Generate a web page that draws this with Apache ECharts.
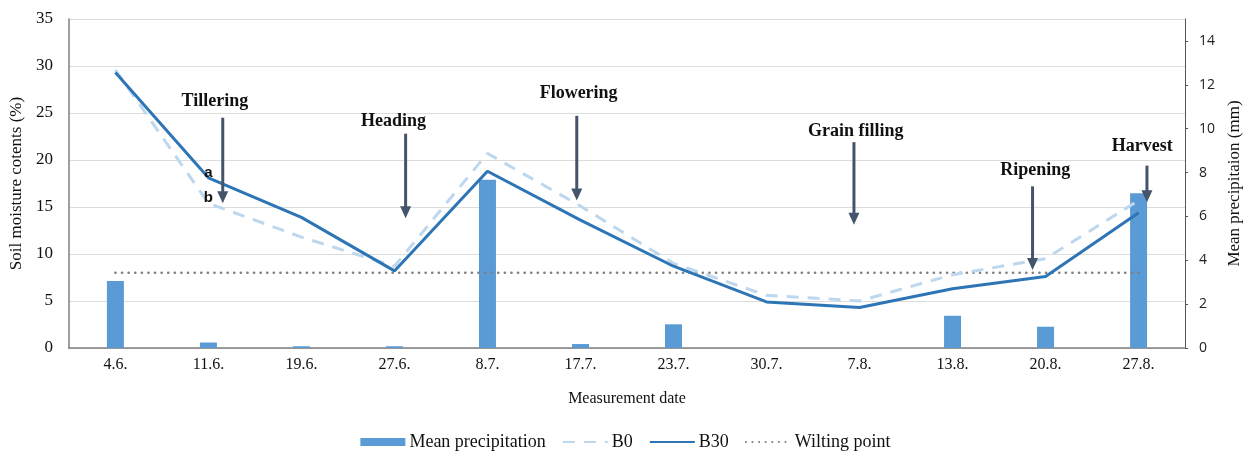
<!DOCTYPE html>
<html>
<head>
<meta charset="utf-8">
<script src="https://cdn.jsdelivr.net/npm/echarts@6/dist/echarts.min.js"></script>
<style>
html,body{margin:0;padding:0;background:#fff;}
#c{width:1251px;height:453px;}
</style>
</head>
<body>
<div id="c"></div>
<script>
const categories = ['4.6.', '11.6.', '19.6.', '27.6.', '8.7.', '17.7.', '23.7.', '30.7.', '7.8.', '13.8.', '20.8.', '27.8.'];
const precipitation = [3.06, 0.25, 0.08, 0.08, 7.67, 0.18, 1.08, 0, 0, 1.47, 0.97, 7.06];
const b0 = [29.6, 15.4, 11.8, 8.7, 20.7, 15.1, 9.0, 5.6, 5.0, 7.8, 9.5, 15.7];
const b30 = [29.3, 18.1, 13.9, 8.2, 18.8, 13.6, 8.7, 4.9, 4.3, 6.3, 7.6, 14.4];
const wilting = [8, 8, 8, 8, 8, 8, 8, 8, 8, 8, 8, 8];
const leftTicks = { min: 0, max: 35, interval: 5 };
const rightTicks = { min: 0, max: 15, interval: 2 };
// growth stage annotations: x in category index units, y in soil-moisture units
const stageNames = ['Tillering', 'Heading', 'Flowering', 'Grain filling', 'Ripening', 'Harvest'];
const stageX = [1.154, 3.12, 4.96, 7.94, 9.86, 11.09];
const stageLabelX = [1.07, 2.99, 4.98, 7.96, 9.89, 11.04];
const stageLabelY = [26.2, 24.1, 27.1, 23.0, 18.9, 21.5];
const stageArrowTop = [24.5, 22.8, 24.7, 21.9, 17.2, 19.4];
const stageArrowTip = [15.4, 13.8, 15.7, 13.1, 8.3, 15.5];
const letterLabels = ['a', 'b'];
const letterX = [1.0, 1.0];
const letterY = [18.6, 16.0];

const serif = '"Liberation Serif", "Times New Roman", serif';
const hiddenDot = { color: 'rgba(0,0,0,0)', borderWidth: 0 };
const chart = echarts.init(document.getElementById('c'));
const option = {
  animation: false,
  backgroundColor: '#fff',
  grid: { left: 67, right: 61, top: 19, bottom: 105 },
  legend: {
    top: 428,
    left: 'center',
    itemWidth: 45,
    itemHeight: 8,
    itemGap: 16,
    textStyle: { fontFamily: serif, fontSize: 18, color: '#111', padding: [0, 0, 0, -1] },
    data: [
      { name: 'Mean precipitation', icon: 'rect' },
      { name: 'B0', itemStyle: hiddenDot },
      { name: 'B30', itemStyle: hiddenDot },
      { name: 'Wilting point', itemStyle: hiddenDot }
    ]
  },
  xAxis: [{
    type: 'category',
    data: categories,
    boundaryGap: true,
    name: 'Measurement date',
    nameLocation: 'middle',
    nameGap: 43,
    nameTextStyle: { fontFamily: serif, fontSize: 16, color: '#111' },
    axisLine: { lineStyle: { color: '#7f7f7f', width: 1.5 } },
    axisTick: { show: false },
    axisLabel: { fontFamily: serif, fontSize: 16, color: '#111', margin: 9 }
  }, {
    type: 'value', min: -0.5, max: 11.5, show: false, position: 'top'
  }],
  yAxis: [{
    type: 'value',
    min: leftTicks.min, max: leftTicks.max, interval: leftTicks.interval,
    name: 'Soil moisture cotents (%)',
    nameLocation: 'middle',
    nameGap: 38,
    nameTextStyle: { fontFamily: serif, fontSize: 17, color: '#111' },
    axisLine: { show: true, onZero: false, lineStyle: { color: '#7f7f7f', width: 1.5 } },
    axisTick: { show: false },
    axisLabel: { fontFamily: serif, fontSize: 17, color: '#111', margin: 16 },
    splitLine: { lineStyle: { color: '#dcdcdc', width: 1 } }
  }, {
    type: 'value',
    min: rightTicks.min, max: rightTicks.max, interval: rightTicks.interval,
    position: 'right',
    name: 'Mean precipitaion (mm)',
    nameLocation: 'middle',
    nameGap: 40,
    nameRotate: 90,
    nameTextStyle: { fontFamily: serif, fontSize: 17, color: '#111' },
    axisLine: { show: true, onZero: false, lineStyle: { color: '#555', width: 1 } },
    axisTick: { show: true, length: 3, lineStyle: { color: '#555' } },
    axisLabel: { fontFamily: '"Open Sans", "Liberation Sans", sans-serif', fontSize: 14, color: '#222', margin: 14, showMaxLabel: false },
    splitLine: { show: false }
  }],
  series: [{
    name: 'Mean precipitation',
    type: 'bar',
    yAxisIndex: 1,
    data: precipitation,
    barWidth: 17,
    itemStyle: { color: '#5b9bd5' },
    z: 1
  }, {
    name: 'B0',
    type: 'line',
    data: b0,
    symbol: 'none',
    lineStyle: { color: '#bdd7ee', width: 3, type: [12, 9] },
    itemStyle: { color: '#bdd7ee' },
    z: 3
  }, {
    name: 'B30',
    type: 'line',
    data: b30,
    symbol: 'none',
    lineStyle: { color: '#2e75b6', width: 3 },
    itemStyle: { color: '#2e75b6' },
    z: 4
  }, {
    name: 'Wilting point',
    type: 'line',
    data: wilting,
    symbol: 'none',
    lineStyle: { color: '#7f7f7f', width: 2.6, type: [0.1, 6.5], cap: 'round' },
    itemStyle: { color: '#7f7f7f' },
    z: 2
  }]
};
chart.setOption(option);

function px(x, y) {
  return chart.convertToPixel({ xAxisIndex: 1, yAxisIndex: 0 }, [x, y]);
}
const graphics = [];
stageNames.forEach(function (name, i) {
  const top = px(stageX[i], stageArrowTop[i]);
  const tip = px(stageX[i], stageArrowTip[i]);
  const lab = px(stageLabelX[i], stageLabelY[i]);
  graphics.push({
    type: 'line', z: 10,
    shape: { x1: top[0], y1: top[1], x2: tip[0], y2: tip[1] - 10 },
    style: { stroke: '#44546a', lineWidth: 3 }
  });
  graphics.push({
    type: 'polygon', z: 10,
    shape: { points: [[tip[0] - 5.5, tip[1] - 12], [tip[0] + 5.5, tip[1] - 12], [tip[0], tip[1]]] },
    style: { fill: '#44546a' }
  });
  graphics.push({
    type: 'text', z: 10,
    x: lab[0], y: lab[1],
    style: {
      text: name, fontFamily: serif, fontSize: 18, fontWeight: 'bold', fill: '#111',
      align: 'center', verticalAlign: 'middle'
    }
  });
});
letterLabels.forEach(function (t, i) {
  const p = px(letterX[i], letterY[i]);
  graphics.push({
    type: 'text', z: 10, x: p[0], y: p[1],
    style: { text: t, fontFamily: '"Liberation Sans", Arial, sans-serif', fontSize: 15, fontWeight: 'bold', fill: '#111', align: 'center', verticalAlign: 'middle' }
  });
});
chart.setOption({ graphic: graphics });
</script>
</body>
</html>
